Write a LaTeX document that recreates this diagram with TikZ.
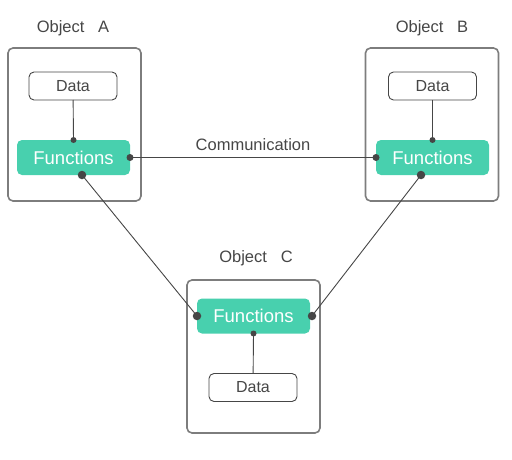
\documentclass[tikz,border=0pt]{standalone}
\usepackage{fontspec}
\setmainfont{Liberation Sans}
\definecolor{funcgreen}{RGB}{72,208,174}
\definecolor{framegray}{RGB}{125,125,125}
\definecolor{inkgray}{RGB}{70,70,70}
\tikzset{
  objbox/.style={draw=framegray, line width=1.6pt, rounded corners=5pt, inner sep=0pt, outer sep=0pt, minimum width=133pt, minimum height=153pt},
  databox/.style={draw=inkgray, line width=0.9pt, rounded corners=5pt, fill=white, inner sep=0pt, outer sep=0pt, minimum width=88pt, minimum height=28pt, text=inkgray, font=\fontsize{16}{16}\selectfont},
  funcbox/.style={fill=funcgreen, rounded corners=5pt, inner sep=0pt, outer sep=0pt, minimum width=113pt, minimum height=35pt, text=white, font=\fontsize{18.5}{19}\selectfont},
  objlabel/.style={text=inkgray, font=\fontsize{16.5}{17}\selectfont},
  link/.style={draw=inkgray, line width=0.9pt},
  smallpin/.style={fill=inkgray, circle, inner sep=0pt, minimum size=6pt},
  bigpin/.style={fill=inkgray, circle, inner sep=0pt, minimum size=8.5pt}
}
\begin{document}
\begin{tikzpicture}[x=1pt,y=-1pt]
\useasboundingbox (0,0) rectangle (512,460);

% objects
\node[objbox] (oa) at (74.5,124.5) {};
\node[objbox] (ob) at (432,124.5) {};
\node[objbox] (oc) at (253.5,356.5) {};

\node[objlabel] (la) at (73,28) {Object\ \ \ A};
\node[objlabel] (lb) at (432,28) {Object\ \ \ B};
\node[objlabel] (lc) at (256,258) {Object\ \ \ C};

% data and functions
\node[databox] (da) at (73,86) {Data};
\node[databox] (db) at (432.5,86) {Data};
\node[databox] (dc) at (253,387.5) {Data};

\node[funcbox] (fa) at (73.5,157.5) {Functions};
\node[funcbox] (fb) at (432.5,157.5) {Functions};
\node[funcbox] (fc) at (253.5,316) {Functions};

\coordinate (fas) at ([xshift=8.5]fa.south);
\coordinate (fbs) at ([xshift=-11.5]fb.south);
\coordinate (fce) at ([xshift=2]fc.east);

% connectors
\draw[link] (da) -- (fa.north);
\draw[link] (db) -- (fb.north);
\draw[link] (dc) -- (fc.south);
\draw[link] (fa.east) -- node[above=3pt, text=inkgray, font=\fontsize{16.5}{17}\selectfont] (comm) {Communication} (fb.west);
\draw[link] (fas) -- (fc.west);
\draw[link] (fbs) -- (fce);

% pins
\node[smallpin] at (fa.north) {};
\node[smallpin] at (fb.north) {};
\node[smallpin] at (fc.south) {};
\node[bigpin, minimum size=7pt] at (fa.east) {};
\node[bigpin, minimum size=7pt] at (fb.west) {};
\node[bigpin] at (fas) {};
\node[bigpin] at (fbs) {};
\node[bigpin] at (fc.west) {};
\node[bigpin] at (fce) {};
\end{tikzpicture}
\end{document}
